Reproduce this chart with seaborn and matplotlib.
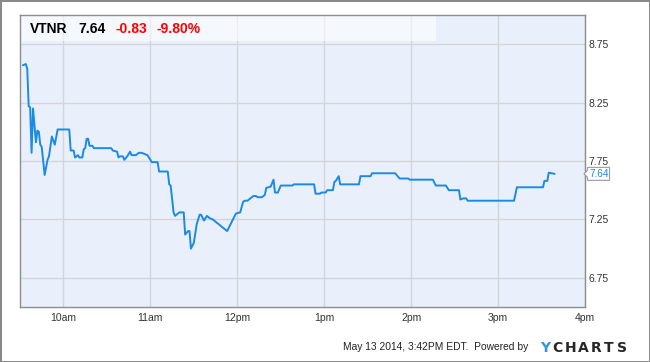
import pandas as pd
import numpy as np
import matplotlib.pyplot as plt
import seaborn as sns
from matplotlib.patches import Rectangle, Polygon

# --- Data ---
DAY = "2014-05-13 "
times = [
    "09:32", "09:34", "09:35", "09:36", "09:37", "09:38", "09:39", "09:41", "09:42", "09:43",
    "09:44", "09:45", "09:47", "09:49", "09:50", "09:52", "09:54", "09:56", "10:04", "10:05",
    "10:07", "10:08", "10:10", "10:11", "10:13", "10:14", "10:15", "10:16", "10:17", "10:18",
    "10:20", "10:21", "10:33", "10:34", "10:37", "10:38", "10:39", "10:41", "10:42", "10:44",
    "10:46", "10:47", "10:50", "10:52", "10:54", "10:58", "10:59", "11:01", "11:05", "11:06",
    "11:07", "11:12", "11:13", "11:14", "11:16", "11:17", "11:20", "11:23", "11:24", "11:26",
    "11:27", "11:28", "11:30", "11:32", "11:34", "11:35", "11:37", "11:39", "11:41", "11:43",
    "11:53", "11:59", "12:02", "12:04", "12:05", "12:07", "12:09", "12:11", "12:13", "12:14",
    "12:17", "12:19", "12:20", "12:23", "12:25", "12:26", "12:28", "12:30", "12:38", "12:39",
    "12:53", "12:54", "12:57", "12:58", "13:01", "13:02", "13:06", "13:07", "13:08", "13:10",
    "13:11", "13:24", "13:25", "13:32", "13:33", "13:49", "13:50", "13:52", "13:58", "13:59",
    "14:15", "14:17", "14:24", "14:26", "14:33", "14:34", "14:36", "14:38", "14:39", "15:11",
    "15:13", "15:31", "15:32", "15:34", "15:35", "15:39",
]
prices = [
    8.57, 8.58, 8.54, 8.22, 8.21, 7.82, 8.20, 7.91, 8.01, 8.00,
    7.89, 7.87, 7.63, 7.76, 7.79, 7.96, 7.89, 8.02, 8.02, 7.84,
    7.84, 7.78, 7.80, 7.78, 7.78, 7.85, 7.86, 7.94, 7.94, 7.88,
    7.88, 7.86, 7.86, 7.84, 7.83, 7.78, 7.79, 7.79, 7.76, 7.79,
    7.83, 7.80, 7.80, 7.82, 7.82, 7.80, 7.78, 7.74, 7.74, 7.66,
    7.66, 7.66, 7.55, 7.54, 7.31, 7.28, 7.31, 7.31, 7.12, 7.15,
    7.15, 7.00, 7.05, 7.21, 7.29, 7.29, 7.24, 7.28, 7.26, 7.25,
    7.15, 7.30, 7.31, 7.40, 7.41, 7.41, 7.43, 7.45, 7.45, 7.44,
    7.44, 7.46, 7.52, 7.53, 7.59, 7.48, 7.48, 7.54, 7.54, 7.55,
    7.55, 7.47, 7.47, 7.48, 7.48, 7.50, 7.50, 7.57, 7.58, 7.62,
    7.55, 7.55, 7.62, 7.62, 7.645, 7.645, 7.63, 7.60, 7.60, 7.59,
    7.59, 7.54, 7.54, 7.50, 7.50, 7.42, 7.43, 7.43, 7.41, 7.41,
    7.525, 7.525, 7.58, 7.58, 7.65, 7.64,
]
tick_hours = ["10:00", "11:00", "12:00", "13:00", "14:00", "15:00", "16:00"]
tick_labels = ["10am", "11am", "12pm", "1pm", "2pm", "3pm", "4pm"]
y_ticks = [6.75, 7.25, 7.75, 8.25, 8.75]

TICKER = "VTNR"
LAST = "7.64"
CHANGE = "-0.83"
CHANGE_PCT = "-9.80%"
FOOTER = "May 13 2014, 3:42PM EDT.  Powered by"

df = pd.DataFrame({"time": pd.to_datetime([DAY + t for t in times]), "price": prices})

# --- Style ---
sns.set_theme(style="white")
plt.rcParams["font.family"] = ["Liberation Sans", "DejaVu Sans"]

W, H = 650, 362
fig = plt.figure(figsize=(W / 100, H / 100), dpi=100)
fig.patch.set_edgecolor("#8a8a8a")
fig.patch.set_linewidth(1.8)

ax = fig.add_axes([20 / W, 1 - 307 / H, 565 / W, 292 / H])
ax.set_facecolor("#eaf0fb")
ax.set_axisbelow(True)

sns.lineplot(data=df, x="time", y="price", ax=ax, color="#1a8ae5", linewidth=1.4, zorder=3)

ax.set_xlim(pd.Timestamp(DAY + "09:30"), pd.Timestamp(DAY + "16:00"))
ax.set_ylim(6.5, 9.0)
ax.yaxis.tick_right()
ax.set_yticks(y_ticks)
ax.set_yticklabels([f"{v:.2f}" for v in y_ticks])
ax.set_xticks(pd.to_datetime([DAY + t for t in tick_hours]))
ax.set_xticklabels(tick_labels)
ax.tick_params(axis="both", length=0, labelsize=7.5, colors="#333333")
ax.tick_params(axis="x", pad=4.5)
ax.tick_params(axis="y", pad=2.5)
ax.grid(True, color="#d2d5da", linewidth=1)
ax.set_xlabel("")
ax.set_ylabel("")
for s in ax.spines.values():
    s.set_visible(True)
    s.set_color("#8d8d8d")
    s.set_linewidth(1)

# header band (semi transparent white)
ax.add_patch(Rectangle((0, 1 - 26 / 292), 0.736, 26 / 292, transform=ax.transAxes,
                       facecolor="white", alpha=0.55, edgecolor="none", zorder=1))

hy = 1 - 28.7 / H
fig.text(30 / W, hy, TICKER, fontsize=10, fontweight="bold", color="black", va="center")
fig.text(78 / W, hy, LAST, fontsize=10, fontweight="bold", color="black", va="center")
fig.text(115.5 / W, hy, CHANGE, fontsize=10, fontweight="bold", color="#ff0000", va="center")
fig.text(156.5 / W, hy, CHANGE_PCT, fontsize=10, fontweight="bold", color="#ff0000", va="center")

# last price tag
ty = ax.transData.transform((0, prices[-1]))[1]  # pixels from bottom
tag = [(584, ty), (587.5, ty + 3.5), (587.5, ty + 6.5), (609.5, ty + 6.5),
       (609.5, ty - 6.5), (587.5, ty - 6.5), (587.5, ty - 3.5)]
fig.add_artist(Polygon([(x / W, y / H) for x, y in tag], closed=True, transform=fig.transFigure,
                       facecolor="white", edgecolor="#9a9a9a", linewidth=0.8, zorder=5))
fig.text(590 / W, ty / H, LAST, fontsize=7.2, color="#1a8ae5", va="center", zorder=6)

# footer
fig.text(528 / W, 1 - 347 / H, FOOTER, fontsize=7.4, color="#222222", ha="right", va="center")
logo = "YCHARTS"
for i, ch in enumerate(logo):
    fig.text((545 + 12.8 * i) / W, 1 - 348 / H, ch, fontsize=10, fontweight="bold",
             family=["DejaVu Sans"], color="#3393e4" if i == 0 else "#262626",
             ha="center", va="center")

fig.savefig("out.png", dpi=100, edgecolor=fig.get_edgecolor())
